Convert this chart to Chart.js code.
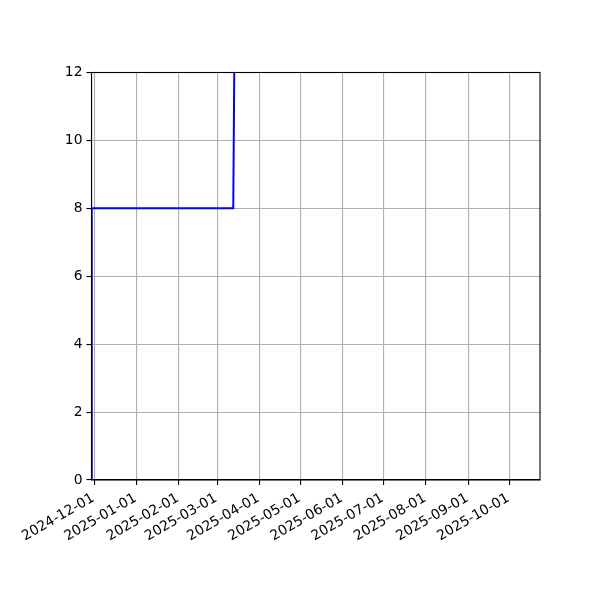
<!DOCTYPE html>
<html>
<head>
<meta charset="utf-8">
<script src="https://cdn.jsdelivr.net/npm/chart.js@4.4.1/dist/chart.umd.min.js"></script>
<style>
html,body{margin:0;padding:0;background:#fff;}
#wrap{width:600px;height:600px;position:relative;}
</style>
</head>
<body>
<div id="wrap"><canvas id="c" width="600" height="600"></canvas></div>
<script>
// Data
const dates = ['2024-11-29T03:00:00Z', '2024-11-29T04:00:00Z', '2025-03-12T20:00:00Z', '2025-03-13T20:00:00Z'];
const values = [0, 8, 8, 13.5];
const tickDates = ['2024-12-01','2025-01-01','2025-02-01','2025-03-01','2025-04-01','2025-05-01','2025-06-01','2025-07-01','2025-08-01','2025-09-01','2025-10-01'];
const yTicks = [0, 2, 4, 6, 8, 10, 12];
const xMinDate = '2024-11-29T00:00:00Z';
const xMaxDate = '2025-10-23T12:00:00Z';

const ms = s => Date.parse(s.length === 10 ? s + 'T00:00:00Z' : s);
const points = dates.map((d, i) => ({x: ms(d), y: values[i]}));
const tickVals = tickDates.map(ms);
const fmt = v => {
  const d = new Date(v);
  const p = n => String(n).padStart(2, '0');
  return d.getUTCFullYear() + '-' + p(d.getUTCMonth() + 1) + '-' + p(d.getUTCDate());
};

const FONT = {family: 'DejaVu Sans', size: 13.9};

const frame = {
  id: 'frame',
  afterDraw(chart) {
    const a = chart.chartArea, ctx = chart.ctx;
    ctx.save();
    ctx.strokeStyle = '#000';
    ctx.lineWidth = 1.1;
    ctx.strokeRect(a.left, a.top, a.right - a.left, a.bottom - a.top);
    ctx.restore();
  }
};

new Chart(document.getElementById('c'), {
  type: 'line',
  data: {
    datasets: [{
      data: points,
      borderColor: '#0000ff',
      borderWidth: 2,
      pointRadius: 0,
      fill: false,
      tension: 0
    }]
  },
  options: {
    responsive: false,
    animation: false,
    devicePixelRatio: 1,
    layout: {padding: {top: 72.5, right: 60, left: 0, bottom: 0}},
    plugins: {legend: {display: false}, tooltip: {enabled: false}},
    scales: {
      x: {
        type: 'linear',
        min: ms(xMinDate),
        max: ms(xMaxDate),
        afterBuildTicks: s => { s.ticks = tickVals.map(v => ({value: v})); },
        afterFit: s => { s.height = 120; },
        ticks: {
          callback: v => fmt(v),
          minRotation: 30, maxRotation: 30,
          autoSkip: false,
          color: '#000',
          font: FONT,
          padding: 5,
          labelOffset: -1
        },
        grid: {color: '#b0b0b0', lineWidth: 1.1, tickColor: '#000', tickLength: 5, drawOnChartArea: true},
        border: {color: '#000', width: 1.1}
      },
      y: {
        min: 0, max: 12,
        afterBuildTicks: s => { s.ticks = yTicks.map(v => ({value: v})); },
        afterFit: s => { s.width = 91.5; },
        ticks: {color: '#000', font: FONT, padding: 4},
        grid: {color: '#b0b0b0', lineWidth: 1.1, tickColor: '#000', tickLength: 5},
        border: {color: '#000', width: 1.1}
      }
    }
  },
  plugins: [frame]
});
</script>
</body>
</html>
